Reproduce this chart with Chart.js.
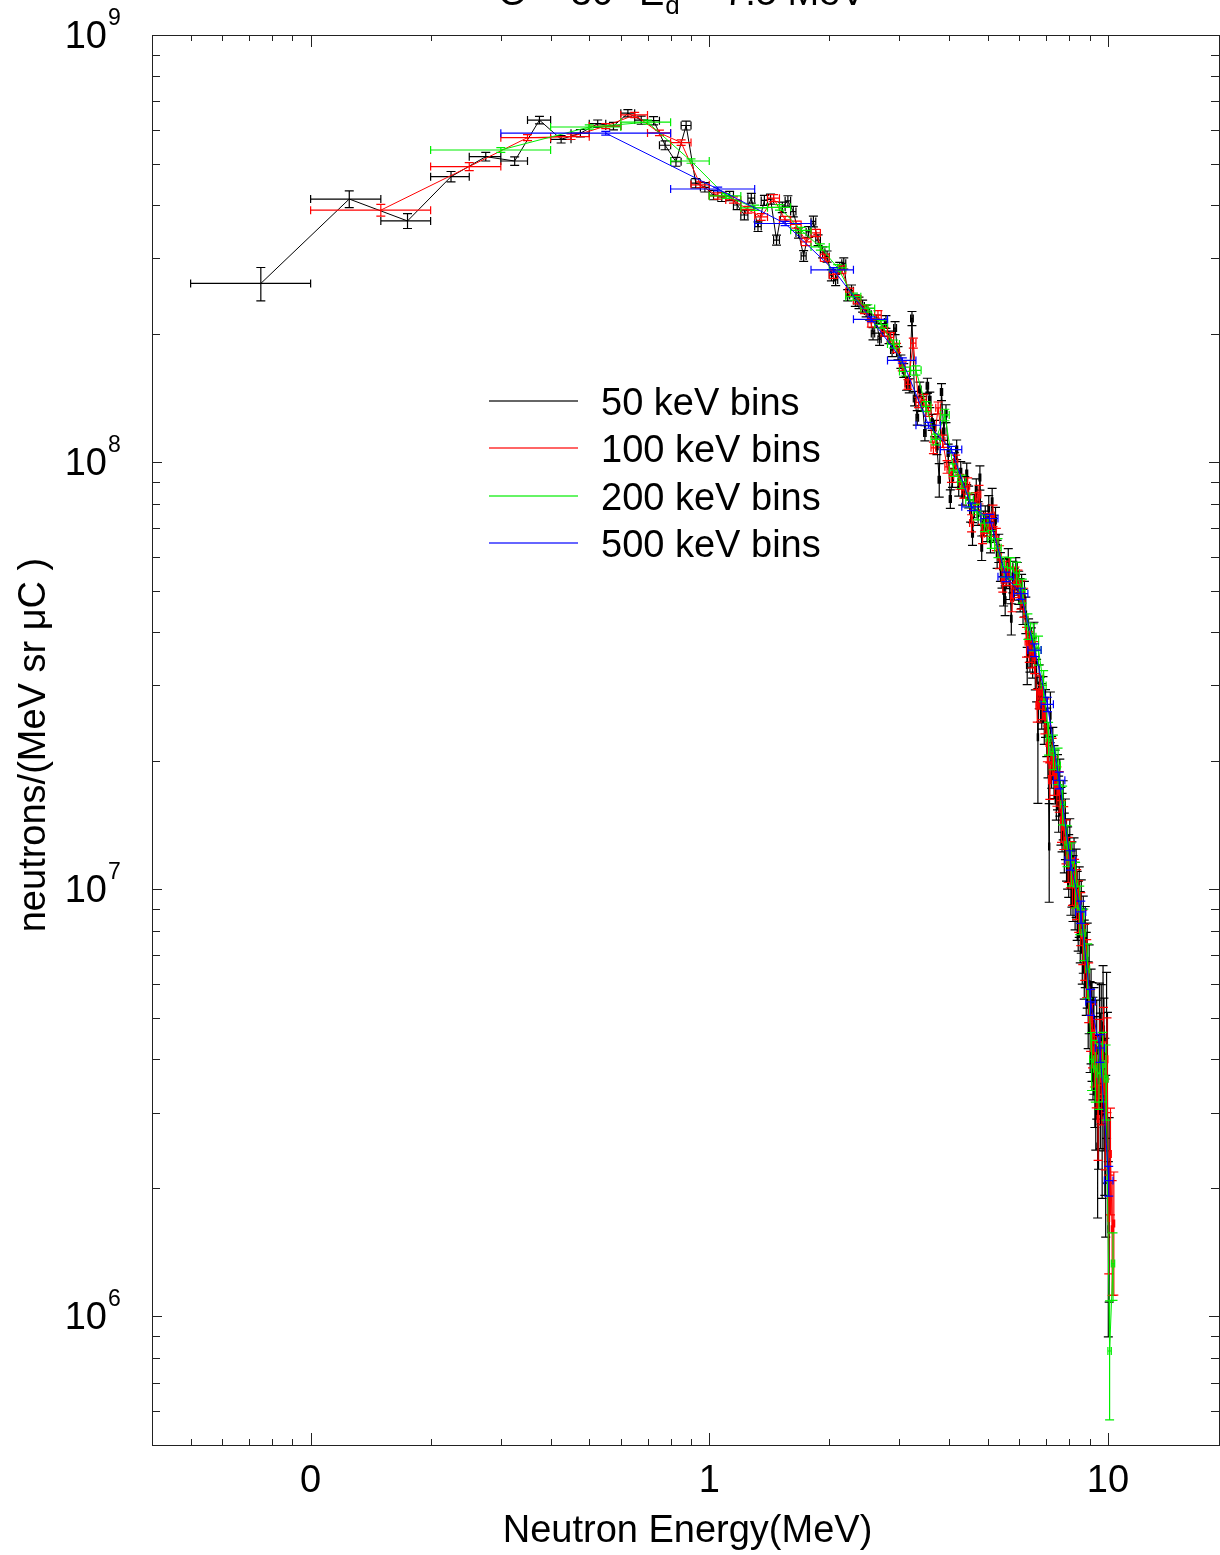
<!DOCTYPE html>
<html><head><meta charset="utf-8">
<script src="https://cdn.jsdelivr.net/npm/chart.js@4.4.1/dist/chart.umd.min.js"></script>
<style>html,body{margin:0;padding:0;background:#fff;overflow:hidden}#wrap{width:1220px;height:1555px;position:relative}</style>
</head><body><div id="wrap"><canvas id="c" width="1220" height="1555"></canvas></div>
<script>
// ---------- DATA (values in units of 1e6 neutrons/(MeV sr uC)) ----------
const seriesLabels = ['50 keV bins', '100 keV bins', '200 keV bins', '500 keV bins'];
const seriesColors = ['#000000', '#ff0000', '#00ee00', '#0000ff'];
// bin definitions (MeV): first bin centre and bin width
const firstCenter50 = 0.075, binWidth50 = 0.05;
const firstCenter100 = 0.15, binWidth100 = 0.1;
const firstCenter200 = 0.3, binWidth200 = 0.2;
const firstCenter500 = 0.55, binWidth500 = 0.5;

const y50 = [
 262,413,367,466,519,507,632,570,589,620,
 612,656,632,630,552,505,614,450,440,422,
 418,420,400,379,415,356,410,413,331,395,
 409,386,344,304,346,366,331,310,303,274,
 267,285,292,246,252,239,236,232,226,222,
 200,214,194,204,213,196,183,206,180,172,
 164,153,151,217,141,127,148,137,117,151,
 140,124,120,109,91,146,118,130,105,82,
 92,100,107,88,95,84,87.5,94,83,77,
 68,79,86,76,92,63,72,74,70,78,
 66,81,70,73,61,63,57,55,50,47.5,
 55,58,52,43,54,52,55,53.5,51,49,
 50,46,48,44,33.5,39,36,37,35,38,
 33,31,22.7,30,28,27,28,25,26,23.5,
 21,12.6,25.5,20,21,19,18.5,17,18,16,
 17.5,15,14.5,15.5,13,14,12.5,12,11.5,12.5,
 10.5,11,10.2,11.2,9.8,10.5,9.3,8.8,9.5,8.3,
 8.8,7.5,8,7,7.5,6.5,6.8,5.5,6,4.9,
 5.2,4.8,4.4,4.6,3.9,3.5,4.2,2.5,3.3,4.5,
 3.8,4.4,3.0,4.8,4.0,3.2,2.6,4.5,3.6,1.6,2.0];
const err50 = [ // percent
 9,4.5,4,2.8,2.3,2.3,2,2,2,2,
 2,2,2.2,2.2,2.4,2.4,2.4,2.5,2.5,2.5,
 2.5,2.5,2.5,2.6,2.6,2.6,2.7,2.7,2.7,2.8,
 2.8,2.8,2.8,2.9,2.9,2.9,2.9,3,3,3,
 3,3,3,3,3.1,3.1,3.1,3.2,3.2,3.2,
 3.3,3.3,3.3,3.4,3.4,3.4,3.5,3.5,3.6,3.6,
 3.7,3.7,3.8,3.8,3.9,3.9,4,4,4.1,4.1,
 4.2,4.3,4.4,4.5,9,4.6,4.7,4.8,4.9,5,
 5.1,5.2,5.3,5.4,5.5,5.6,5.7,5.8,5.9,6,
 6.1,6.2,6.3,6.4,6.5,6.6,6.7,6.8,6.9,7,
 7.1,7.2,7.3,7.4,7.5,7.6,7.7,7.8,7.9,8,
 8.1,8.2,8.3,8.4,8.5,8.6,8.7,8.8,8.9,9,
 9.2,9.4,9.6,9.8,10,10.2,10.4,10.6,10.8,11,
 11.2,11.4,30,11.8,12,12.2,12.4,12.6,12.8,13,
 13.2,26,13.6,13.8,14,14.2,14.4,14.6,14.8,15,
 15.2,15.4,15.6,15.8,16,16.2,16.4,16.6,16.8,17,
 17.2,17.4,17.6,17.8,18,18.2,18.4,18.6,18.8,19,
 19.5,20,20.5,21,21.5,22,22.5,23,23.5,24,
 25,26,27,28,29,30,31,32,33,34,
 35,36,37,38,39,40,41,42,43,44,46];

const y100 = [
 389,492,575,578,612,650,590,560,446,420,
 411,390,375,415,369,360,328,344,301,275,
 282,250,240,228,212,221,202,196,185,168,
 152,190,138,140,132,108,134,112,97.5,93,
 100,90,86,88,72,81,84,68,72,71,
 75,66,60,53,55,56,48,53,52,49,
 47,38,37,36,35,27,29,27.5,25.5,22,
 18,20.5,18.5,17.5,17,14.5,14,13,11.8,11.5,
 10.5,10.4,9.8,9.2,8.6,7.8,7.2,6.6,5.8,5.0,
 4.6,4.2,3.8,2.9,4.1,3.6,4.3,2.9,4.0,1.7,
 2.4,1.6,1.65];
const err100 = [
 3.2,2.2,1.6,1.5,1.4,1.4,1.5,1.5,1.6,1.7,
 1.7,1.8,1.8,1.9,1.9,1.9,2,2,2,2.1,
 2.1,2.2,2.2,2.3,2.3,2.4,2.4,2.5,2.5,2.6,
 2.6,2.7,2.8,2.9,3,3.1,3.2,3.3,3.4,3.6,
 3.8,4,4.2,4.4,4.6,4.8,5,5.2,5.4,5.6,
 5.8,6,6.2,6.4,6.6,6.8,7,7.2,7.4,7.6,
 7.8,8,8.2,8.4,8.6,8.8,9,9.2,9.4,9.6,
 9.8,10,10.3,10.6,10.9,11.2,11.5,11.8,12.1,12.4,
 12.7,13,13.4,13.8,14.2,14.6,15,15.5,16,16.5,
 17,18,19,20,21,22,23,24,25,26,
 28,30,32];

const y200 = [538,609,625,507,420,394,395,349,319,285,244,229,210,189,163,164,135,113,129,95.8,
 90,81.5,76.5,72,66,63,56.9,56.5,55,50,41.3,39,36.3,30,22.6,21,19.5,15.8,12.7,11.5,
 10.3,9.0,7.9,6.5,4.0,3.8,3.7,3.9,3.6,0.83,1.33];
const err200 = [1.3,1.1,1.1,1.2,1.3,1.4,1.5,1.6,1.7,1.8,1.9,2,2.1,2.2,2.4,2.5,2.7,2.9,3.1,3.4,
 3.6,3.9,4.2,4.5,4.8,5.1,5.4,5.8,6.1,6.5,6.9,7.3,7.8,8.3,8.8,9.3,9.8,10.4,11,11.6,
 12.3,13,13.8,14.6,15.5,16.5,17.5,18.5,20,31,18];

const y500 = [589,436,362,282,216,173,122,107,78.6,73.8,53.9,49.2,36.3,27.1,18.0,11.7,8.85,5.45,4.25,2.08];
const err500 = [1,1,1.1,1.2,1.3,1.4,1.6,1.8,2,2.3,2.6,3,3.4,3.9,4.5,5.2,6,7,7.5,8];

// axes / labels
const xMin = 0.04, xMax = 19.0, yMin = 5e5, yMax = 1e9;
const xTickValues = [0.1, 1, 10];
const xTickLabels = ['0', '1', '10'];
const yTickValues = [1e6, 1e7, 1e8, 1e9];
const yTickExponents = ['6', '7', '8', '9'];
const xTitle = 'Neutron Energy(MeV)';
const yTitle = 'neutrons/(MeV sr \u03bcC )';
const titleMain = '\u0398 = 30\u00b0 E', titleSub = 'd', titleRest = ' = 7.5 MeV';

// ---------- build datasets ----------
function build(vals, errs, c0, w) {
  return vals.map((v, i) => ({ x: +(c0 + i * w).toFixed(4), y: v * 1e6, err: errs[i], hw: w / 2 }));
}
const series = [
  build(y50, err50, firstCenter50, binWidth50),
  build(y100, err100, firstCenter100, binWidth100),
  build(y200, err200, firstCenter200, binWidth200),
  build(y500, err500, firstCenter500, binWidth500)
];

const FONT = '"Liberation Sans", Arial, Helvetica, sans-serif';

const errorBars = {
  id: 'errorBars',
  afterDatasetDraw(chart, args) {
    const ds = chart.data.datasets[args.index];
    const { ctx, chartArea: a, scales: { x, y } } = chart;
    ctx.save();
    ctx.beginPath(); ctx.rect(a.left, a.top, a.right - a.left, a.bottom - a.top); ctx.clip();
    ctx.strokeStyle = ds.borderColor; ctx.lineWidth = 1.2;
    ctx.beginPath();
    for (const d of ds.data) {
      const px = x.getPixelForValue(d.x), py = y.getPixelForValue(d.y);
      const xl = x.getPixelForValue(d.x - d.hw), xr = x.getPixelForValue(d.x + d.hw);
      const yt = y.getPixelForValue(d.y * (1 + d.err / 100)), yb = y.getPixelForValue(d.y * (1 - d.err / 100));
      ctx.moveTo(xl, py); ctx.lineTo(xr, py);
      ctx.moveTo(xl, py - 4); ctx.lineTo(xl, py + 4);
      ctx.moveTo(xr, py - 4); ctx.lineTo(xr, py + 4);
      ctx.moveTo(px, yt); ctx.lineTo(px, yb);
      ctx.moveTo(px - 4.5, yt); ctx.lineTo(px + 4.5, yt);
      ctx.moveTo(px - 4.5, yb); ctx.lineTo(px + 4.5, yb);
    }
    ctx.stroke();
    ctx.restore();
  }
};

const frame = {
  id: 'frame',
  afterDraw(chart) {
    const { ctx, chartArea: a, scales: { x, y } } = chart;
    ctx.save();
    ctx.strokeStyle = '#222'; ctx.lineWidth = 1;
    ctx.strokeRect(Math.round(a.left) + 0.5, Math.round(a.top) + 0.5, Math.round(a.right - a.left), Math.round(a.bottom - a.top));
    ctx.beginPath();
    for (const d of [0.01, 0.1, 1, 10]) for (let m = 1; m <= 9; m++) {
      const v = m * d; if (v < xMin || v > xMax) continue;
      const px = Math.round(x.getPixelForValue(v)) + 0.5, len = m === 1 ? 12 : 6;
      ctx.moveTo(px, a.bottom); ctx.lineTo(px, a.bottom - len);
      ctx.moveTo(px, a.top); ctx.lineTo(px, a.top + len);
    }
    for (const d of [1e5, 1e6, 1e7, 1e8, 1e9]) for (let m = 1; m <= 9; m++) {
      const v = m * d; if (v < yMin || v > yMax) continue;
      const py = Math.round(y.getPixelForValue(v)) + 0.5, len = m === 1 ? 10 : 8;
      ctx.moveTo(a.left, py); ctx.lineTo(a.left + len, py);
      ctx.moveTo(a.right, py); ctx.lineTo(a.right - len, py);
    }
    ctx.stroke();
    ctx.fillStyle = '#000';
    // x tick labels
    ctx.font = '38px ' + FONT; ctx.textAlign = 'center'; ctx.textBaseline = 'alphabetic';
    xTickValues.forEach((v, i) => ctx.fillText(xTickLabels[i], x.getPixelForValue(v), 1492));
    // y tick labels with superscript exponent
    yTickValues.forEach((v, i) => {
      const py = y.getPixelForValue(v);
      ctx.font = '38px ' + FONT; ctx.textAlign = 'right'; ctx.textBaseline = 'alphabetic';
      ctx.fillText('10', 107, py + 13);
      ctx.font = '23px ' + FONT; ctx.textAlign = 'left';
      ctx.fillText(yTickExponents[i], 108, py - 10);
    });
    // axis titles
    ctx.font = '38px ' + FONT; ctx.textAlign = 'center';
    ctx.fillText(xTitle, (a.left + a.right) / 2 + 2, 1542);
    ctx.save(); ctx.translate(45, 745); ctx.rotate(-Math.PI / 2); ctx.fillText(yTitle, 0, 0); ctx.restore();
    // title (cut off at top)
    ctx.textAlign = 'left';
    let tx = 498; const tb = 5;
    ctx.font = '38px ' + FONT; ctx.fillText(titleMain, tx, tb); tx += ctx.measureText(titleMain).width;
    ctx.font = '26px ' + FONT; ctx.fillText(titleSub, tx + 1, tb + 9); tx += ctx.measureText(titleSub).width + 2;
    ctx.font = '38px ' + FONT; ctx.fillText(titleRest, tx, tb);
    // legend
    const ly = [401, 448, 496, 543];
    seriesLabels.forEach((lab, i) => {
      ctx.strokeStyle = seriesColors[i]; ctx.lineWidth = 1.3; ctx.globalAlpha = 0.8;
      ctx.beginPath(); ctx.moveTo(489, ly[i]); ctx.lineTo(578, ly[i]); ctx.stroke();
      ctx.globalAlpha = 1;
      ctx.fillStyle = '#000'; ctx.font = '38px ' + FONT; ctx.textAlign = 'left';
      ctx.fillText(lab, 601, ly[i] + 14);
    });
    ctx.restore();
  }
};

new Chart(document.getElementById('c'), {
  type: 'scatter',
  data: {
    datasets: series.map((d, i) => ({
      label: seriesLabels[i], data: d, showLine: true, borderColor: seriesColors[i],
      backgroundColor: seriesColors[i], borderWidth: 1, pointRadius: 0, order: 4 - i, tension: 0
    }))
  },
  options: {
    responsive: false, animation: false, devicePixelRatio: 1,
    layout: { padding: { left: 152, top: 35, right: 1, bottom: 110 } },
    plugins: { legend: { display: false }, tooltip: { enabled: false }, title: { display: false } },
    scales: {
      x: { type: 'logarithmic', min: xMin, max: xMax, display: false },
      y: { type: 'logarithmic', min: yMin, max: yMax, display: false }
    }
  },
  plugins: [errorBars, frame]
});
</script>
</body></html>
